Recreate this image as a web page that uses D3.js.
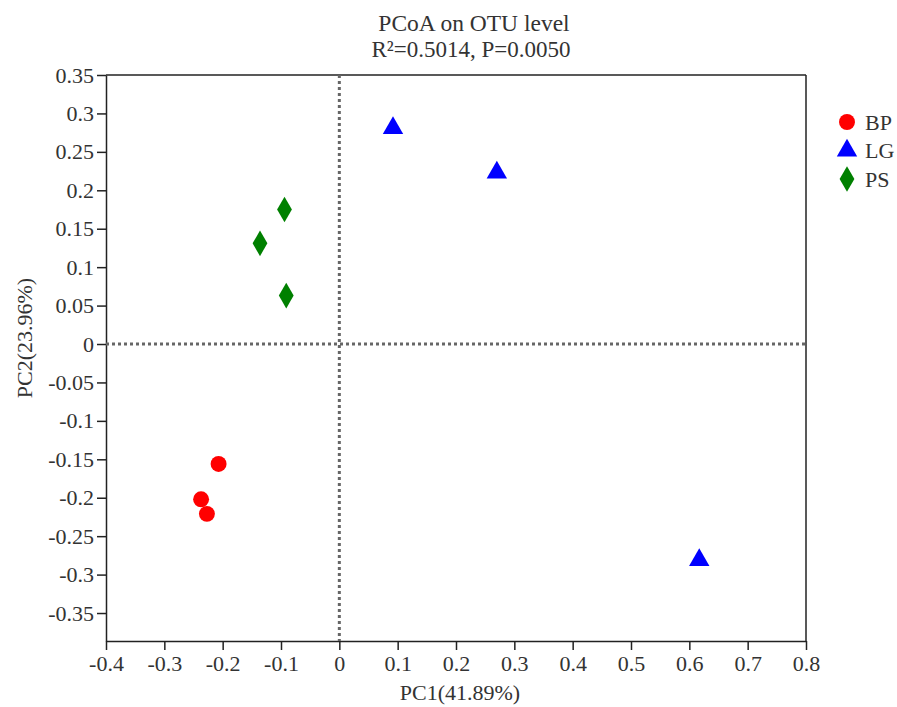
<!DOCTYPE html>
<html>
<head>
<meta charset="utf-8">
<script src="https://cdn.jsdelivr.net/npm/d3@7"></script>
<style>
  body { margin: 0; background: #fff; }
  text { font-family: "Liberation Serif", "Times New Roman", serif; fill: #333; }
</style>
</head>
<body>
<div id="chart"></div>
<script>
// sample groups and their PCoA coordinates
var groups = ["BP", "LG", "PS"];
var colors = ["#ff0000", "#0000ff", "#008000"];
var shapes = [d3.symbolCircle, d3.symbolTriangle, d3.symbolDiamond];
var pc1 = {
    BP: [-0.207, -0.237, -0.227],
    LG: [0.092, 0.270, 0.617],
    PS: [-0.094, -0.136, -0.091]
};
var pc2 = {
    BP: [-0.156, -0.202, -0.221],
    LG: [0.281, 0.223, -0.281],
    PS: [0.175, 0.131, 0.063]
};
var xTicks = [-0.4, -0.3, -0.2, -0.1, 0, 0.1, 0.2, 0.3, 0.4, 0.5, 0.6, 0.7, 0.8];
var yTicks = [0.35, 0.3, 0.25, 0.2, 0.15, 0.1, 0.05, 0, -0.05, -0.1, -0.15, -0.2, -0.25, -0.3, -0.35];

var margin = { top: 75, right: 91, bottom: 66, left: 106 },
    width = 897 - margin.left - margin.right,
    height = 707 - margin.top - margin.bottom;

var svg = d3.select("#chart")
    .append("svg")
    .attr("width", 897)
    .attr("height", 707);

var plot = svg.append("g")
    .attr("transform", "translate(" + margin.left + "," + margin.top + ")");

var x = d3.scaleLinear().domain([-0.4, 0.8]).range([0, width]);
var y = d3.scaleLinear().domain([-0.3864, 0.35]).range([height, 0]);

var fmt = function(d) { return d === 0 ? "0" : String(+d.toFixed(2)); };

// axes
var xAxis = plot.append("g")
    .attr("transform", "translate(0," + height + ")")
    .call(d3.axisBottom(x).tickValues(xTicks).tickFormat(fmt)
        .tickSize(9).tickPadding(5).tickSizeOuter(0));
var yAxis = plot.append("g")
    .call(d3.axisLeft(y).tickValues(yTicks).tickFormat(fmt)
        .tickSize(9).tickPadding(3).tickSizeOuter(0));

[xAxis, yAxis].forEach(function(a) {
    a.selectAll("path, line").attr("stroke", "#222").attr("stroke-width", 1.5);
    a.selectAll("text").style("font-size", "22px").attr("font-family", null);
});

// top and right frame
plot.append("line").attr("x1", 0).attr("x2", width).attr("y1", 0).attr("y2", 0)
    .attr("stroke", "#222").attr("stroke-width", 1.5);
plot.append("line").attr("x1", width).attr("x2", width).attr("y1", 0).attr("y2", height)
    .attr("stroke", "#222").attr("stroke-width", 1.5);

// zero lines
plot.append("line")
    .attr("x1", x(0)).attr("x2", x(0)).attr("y1", 0).attr("y2", height)
    .attr("stroke", "#666").attr("stroke-width", 3).attr("stroke-dasharray", "3,3");
plot.append("line")
    .attr("x1", 0).attr("x2", width).attr("y1", y(0)).attr("y2", y(0))
    .attr("stroke", "#666").attr("stroke-width", 3).attr("stroke-dasharray", "3,3");

// points
function symbolPath(i) {
    var sizes = [200, 180, 190];
    return d3.symbol().type(shapes[i]).size(sizes[i])();
}

groups.forEach(function(g, i) {
    var pts = pc1[g].map(function(v, j) { return { x: v, y: pc2[g][j] }; });
    plot.selectAll(".pt-" + g)
        .data(pts)
        .enter()
        .append("path")
        .attr("class", "pt-" + g)
        .attr("d", symbolPath(i))
        .attr("transform", function(d) {
            return "translate(" + x(d.x) + "," + y(d.y) + ")";
        })
        .attr("fill", colors[i]);
});

// legend
var legend = svg.append("g").attr("transform", "translate(847,122)");
groups.forEach(function(g, i) {
    var row = legend.append("g").attr("transform", "translate(0," + (i * 28.5) + ")");
    row.append("path")
        .attr("d", symbolPath(i))
        .attr("fill", colors[i]);
    row.append("text")
        .attr("x", 18).attr("y", 7.5)
        .style("font-size", "22px")
        .text(g);
});

// titles
svg.append("text").attr("x", 474).attr("y", 31).attr("text-anchor", "middle")
    .style("font-size", "23.5px").text("PCoA on OTU level");
svg.append("text").attr("x", 471).attr("y", 57).attr("text-anchor", "middle")
    .style("font-size", "23px").text("R²=0.5014, P=0.0050");

svg.append("text").attr("x", 460).attr("y", 700).attr("text-anchor", "middle")
    .style("font-size", "22px").text("PC1(41.89%)");
svg.append("text")
    .attr("transform", "translate(32,338)rotate(-90)")
    .attr("text-anchor", "middle")
    .style("font-size", "22px").text("PC2(23.96%)");
</script>
</body>
</html>
